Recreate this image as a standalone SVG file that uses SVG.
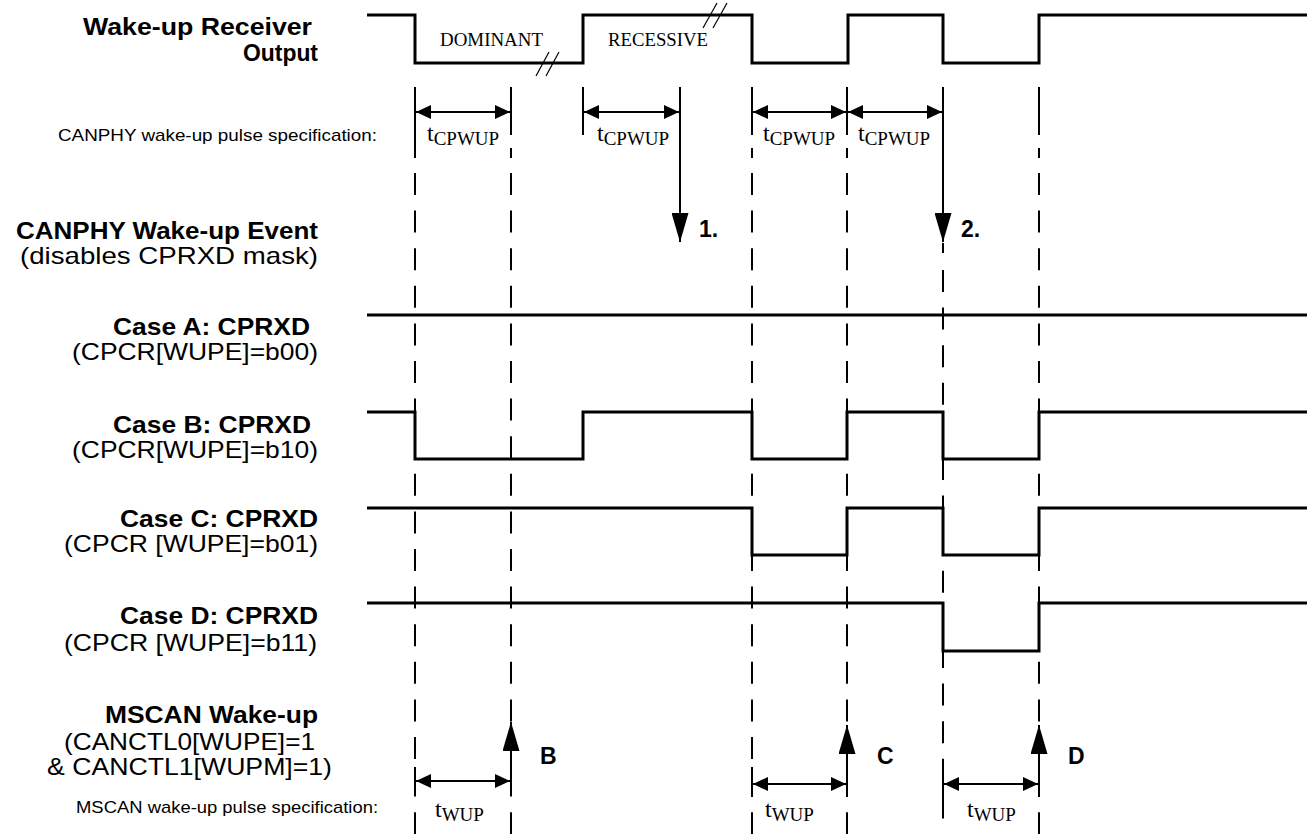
<svg xmlns="http://www.w3.org/2000/svg" width="1307" height="834" viewBox="0 0 1307 834">
<style>
.bg{fill:#fff}
.wave{fill:none;stroke:#000;stroke-width:3;stroke-linejoin:miter}
.brk{stroke:#000;stroke-width:1.2}
.dash{stroke:#000;stroke-width:2;stroke-dasharray:22 15.6}
.tick{stroke:#000;stroke-width:2}
.arr{stroke:#000;stroke-width:2;fill:none}
.lb{font-family:"Liberation Sans",Arial,sans-serif;font-weight:bold;font-size:24px;fill:#000}
.lr{font-family:"Liberation Sans",Arial,sans-serif;font-size:24px;fill:#000}
.sm{font-family:"Liberation Sans",Arial,sans-serif;font-size:17px;fill:#000}
.tm{font-family:"Liberation Serif","Times New Roman",serif;font-size:24px;fill:#000}
.tmr{font-family:"Liberation Serif","Times New Roman",serif;font-size:18px;fill:#000}
.sub{font-size:19px}
.num{font-family:"Liberation Sans",Arial,sans-serif;font-weight:bold;font-size:23px;fill:#000}
</style>
<defs>
<marker id="ah" viewBox="0 0 15 14" refX="15" refY="7" markerWidth="15" markerHeight="14" markerUnits="userSpaceOnUse" orient="auto-start-reverse">
<path d="M0,0 L15,7 L0,14 z" fill="#000"/>
</marker>
<marker id="av" viewBox="0 0 29 17" refX="29" refY="8.5" markerWidth="29" markerHeight="17" markerUnits="userSpaceOnUse" orient="auto">
<path d="M0,0 L29,8.5 L0,17 z" fill="#000"/>
</marker>
</defs>
<rect class="bg" x="0" y="0" width="1307" height="834"/>

<g id="guides">
<line class="dash" x1="415" y1="173" x2="415" y2="834"/>
<line class="dash" x1="511" y1="173" x2="511" y2="834"/>
<line class="dash" x1="752" y1="173" x2="752" y2="834"/>
<line class="dash" x1="847" y1="173" x2="847" y2="834"/>
<line class="dash" x1="943" y1="270" x2="943" y2="834"/>
<line class="dash" x1="1039" y1="173" x2="1039" y2="834"/>
<line class="tick" x1="415" y1="87" x2="415" y2="158"/>
<line class="tick" x1="511" y1="87" x2="511" y2="135"/>
<line class="tick" x1="511" y1="148" x2="511" y2="158"/>
<line class="tick" x1="583" y1="87" x2="583" y2="135"/>
<line class="tick" x1="752" y1="87" x2="752" y2="135"/>
<line class="tick" x1="752" y1="148" x2="752" y2="158"/>
<line class="tick" x1="847" y1="87" x2="847" y2="135"/>
<line class="tick" x1="847" y1="148" x2="847" y2="158"/>
<line class="tick" x1="943" y1="243" x2="943" y2="253"/>
<line class="tick" x1="1039" y1="87" x2="1039" y2="135"/>
<line class="tick" x1="1039" y1="148" x2="1039" y2="158"/>
<line class="tick" x1="415" y1="767" x2="415" y2="794"/>
<line class="tick" x1="752" y1="767" x2="752" y2="797"/>
<line class="tick" x1="943" y1="767" x2="943" y2="797"/>
</g>

<g id="wakeup-receiver-output">
<text class="lb" x="83" y="35" textLength="229" lengthAdjust="spacingAndGlyphs">Wake-up Receiver</text>
<text class="lb" x="243" y="61" textLength="75" lengthAdjust="spacingAndGlyphs">Output</text>
<path class="wave" d="M367,15 H415 V63 H583 V15 H752 V63 H848 V15 H943 V63 H1039 V15 H1307"/>
<line class="brk" x1="536" y1="76" x2="549" y2="52"/>
<line class="brk" x1="546" y1="76" x2="559" y2="52"/>
<line class="brk" x1="703" y1="28" x2="717" y2="3"/>
<line class="brk" x1="713" y1="28" x2="727" y2="3"/>
<text class="tmr" x="440" y="46" textLength="103" lengthAdjust="spacingAndGlyphs">DOMINANT</text>
<text class="tmr" x="608" y="46" textLength="100" lengthAdjust="spacingAndGlyphs">RECESSIVE</text>
</g>

<g id="canphy-spec">
<text class="sm" x="58" y="141" textLength="319" lengthAdjust="spacingAndGlyphs">CANPHY wake-up pulse specification:</text>
<text class="tm" x="427" y="141">t<tspan class="sub" dy="4">CPWUP</tspan></text>
<text class="tm" x="597" y="141">t<tspan class="sub" dy="4">CPWUP</tspan></text>
<text class="tm" x="763" y="141">t<tspan class="sub" dy="4">CPWUP</tspan></text>
<text class="tm" x="858" y="141">t<tspan class="sub" dy="4">CPWUP</tspan></text>
</g>

<g id="canphy-event">
<text class="lb" x="16" y="239" textLength="302" lengthAdjust="spacingAndGlyphs">CANPHY Wake-up Event</text>
<text class="lr" x="20" y="264" textLength="298" lengthAdjust="spacingAndGlyphs">(disables CPRXD mask)</text>
<text class="num" x="699" y="237">1.</text>
<text class="num" x="961" y="237">2.</text>
</g>

<g id="case-a">
<text class="lb" x="113" y="335" textLength="197" lengthAdjust="spacingAndGlyphs">Case A: CPRXD</text>
<text class="lr" x="72" y="360" textLength="246" lengthAdjust="spacingAndGlyphs">(CPCR[WUPE]=b00)</text>
<path class="wave" d="M367,315 H1307"/>
</g>

<g id="case-b">
<text class="lb" x="113" y="433" textLength="198" lengthAdjust="spacingAndGlyphs">Case B: CPRXD</text>
<text class="lr" x="72" y="458" textLength="246" lengthAdjust="spacingAndGlyphs">(CPCR[WUPE]=b10)</text>
<path class="wave" d="M367,412 H415 V459 H583 V412 H752 V459 H847 V412 H943 V459 H1039 V412 H1307"/>
</g>

<g id="case-c">
<text class="lb" x="120" y="527" textLength="198" lengthAdjust="spacingAndGlyphs">Case C: CPRXD</text>
<text class="lr" x="64" y="552" textLength="254" lengthAdjust="spacingAndGlyphs">(CPCR [WUPE]=b01)</text>
<path class="wave" d="M367,508 H752 V555 H847 V508 H943 V555 H1039 V508 H1307"/>
</g>

<g id="case-d">
<text class="lb" x="120" y="624" textLength="198" lengthAdjust="spacingAndGlyphs">Case D: CPRXD</text>
<text class="lr" x="64" y="651" textLength="253" lengthAdjust="spacingAndGlyphs">(CPCR [WUPE]=b11)</text>
<path class="wave" d="M367,603 H943 V651 H1039 V603 H1307"/>
</g>

<g id="mscan-wakeup">
<text class="lb" x="105" y="723" textLength="213" lengthAdjust="spacingAndGlyphs">MSCAN Wake-up</text>
<text class="lr" x="64" y="750" textLength="251" lengthAdjust="spacingAndGlyphs">(CANCTL0[WUPE]=1</text>
<text class="lr" x="47" y="775" textLength="285" lengthAdjust="spacingAndGlyphs">&amp; CANCTL1[WUPM]=1)</text>
<text class="num" x="540" y="764">B</text>
<text class="num" x="877" y="764">C</text>
<text class="num" x="1068" y="764">D</text>
</g>

<g id="mscan-spec">
<text class="sm" x="76" y="813" textLength="302" lengthAdjust="spacingAndGlyphs">MSCAN wake-up pulse specification:</text>
<text class="tm" x="435" y="817">t<tspan class="sub" dy="4">WUP</tspan></text>
<text class="tm" x="765" y="817">t<tspan class="sub" dy="4">WUP</tspan></text>
<text class="tm" x="967" y="817">t<tspan class="sub" dy="4">WUP</tspan></text>
</g>

<g id="connectors">
<line class="arr" x1="416" y1="112" x2="510" y2="112" marker-start="url(#ah)" marker-end="url(#ah)"/>
<line class="arr" x1="584" y1="112" x2="679" y2="112" marker-start="url(#ah)" marker-end="url(#ah)"/>
<line class="arr" x1="753" y1="112" x2="846" y2="112" marker-start="url(#ah)" marker-end="url(#ah)"/>
<line class="arr" x1="848" y1="112" x2="942" y2="112" marker-start="url(#ah)" marker-end="url(#ah)"/>
<line class="arr" x1="680" y1="87" x2="680" y2="242" marker-end="url(#av)"/>
<line class="arr" x1="943" y1="87" x2="943" y2="242" marker-end="url(#av)"/>
<line class="arr" x1="511" y1="794" x2="511" y2="722" marker-end="url(#av)"/>
<line class="arr" x1="847" y1="797" x2="847" y2="725" marker-end="url(#av)"/>
<line class="arr" x1="1039" y1="797" x2="1039" y2="725" marker-end="url(#av)"/>
<line class="arr" x1="416" y1="781" x2="510" y2="781" marker-start="url(#ah)" marker-end="url(#ah)"/>
<line class="arr" x1="753" y1="784" x2="846" y2="784" marker-start="url(#ah)" marker-end="url(#ah)"/>
<line class="arr" x1="944" y1="784" x2="1038" y2="784" marker-start="url(#ah)" marker-end="url(#ah)"/>
</g>
</svg>
